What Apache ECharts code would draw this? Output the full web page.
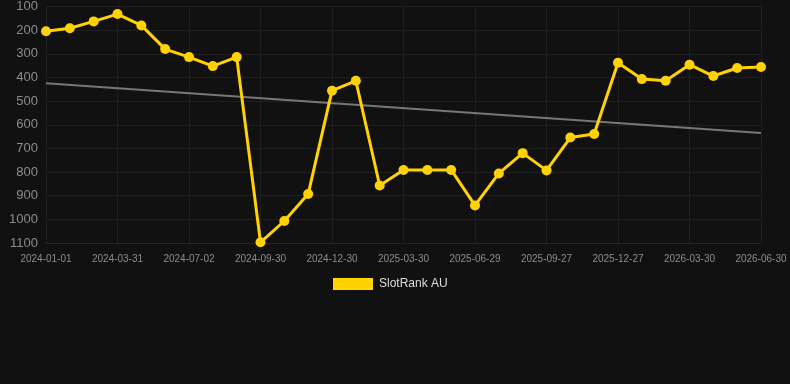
<!DOCTYPE html>
<html lang="en">
<head>
    <meta charset="UTF-8">
    <title>SlotRank AU</title>
    <script src="https://cdn.jsdelivr.net/npm/echarts@6/dist/echarts.min.js"></script>
</head>
<style>
    html, body {
        height: 100%;
        margin: 0;
        background: #111111;
    }
</style>
<body>
<div id="main" style="width: 790px;height:384px"></div>
<script type="text/javascript">
    var dates = [
        '2024-01-01', '2024-01-31', '2024-03-01', '2024-03-31', '2024-05-01', '2024-06-01',
        '2024-07-02', '2024-08-01', '2024-08-31', '2024-09-30', '2024-10-30', '2024-11-30',
        '2024-12-30', '2025-01-29', '2025-02-28', '2025-03-30', '2025-04-29', '2025-05-30',
        '2025-06-29', '2025-07-29', '2025-08-28', '2025-09-27', '2025-10-27', '2025-11-27',
        '2025-12-27', '2026-01-27', '2026-02-27', '2026-03-30', '2026-04-30', '2026-05-31',
        '2026-06-30'
    ];
    var rankAU = [
        205, 192, 163, 132, 180, 280, 314, 352, 314, 1097,
        1007, 893, 456, 414, 857, 791, 791, 791, 941, 806,
        720, 793, 654, 639, 338, 407, 414, 346, 394, 360,
        356
    ];
    // trend line, read at first and last date
    var trendEnds = [425, 635];

    var trend = dates.map(function (d, i) {
        if (i === 0) return trendEnds[0];
        if (i === dates.length - 1) return trendEnds[1];
        return null;
    });

    var myChart = echarts.init(document.getElementById('main'));
    var option = {
        backgroundColor: '#111111',
        animation: false,
        grid: {left: 46, right: 29, top: 6, bottom: 141},
        legend: {
            top: 273,
            left: 328,
            itemWidth: 40,
            itemHeight: 12,
            itemGap: 10,
            data: [{name: 'SlotRank AU', icon: 'rect'}],
            textStyle: {color: '#dddddd', fontSize: 12, fontFamily: 'Liberation Sans', padding: [0, 0, 0, 1]}
        },
        xAxis: {
            type: 'category',
            data: dates,
            boundaryGap: false,
            axisLine: {show: true, lineStyle: {color: '#242424'}},
            axisTick: {show: false},
            axisLabel: {interval: 2, color: '#8c8c8c', fontSize: 10, fontFamily: 'Liberation Sans', margin: 11},
            splitLine: {show: true, interval: 2, lineStyle: {color: '#1f1f1f'}}
        },
        yAxis: {
            type: 'value',
            inverse: true,
            min: 100,
            max: 1100,
            interval: 100,
            axisLine: {show: false},
            axisTick: {show: false},
            axisLabel: {
                color: '#8c8c8c', fontSize: 13, fontFamily: 'Liberation Sans', margin: 8,
                formatter: function (v) { return String(v); }
            },
            splitLine: {lineStyle: {color: '#1f1f1f'}}
        },
        series: [
            {
                name: 'SlotRank AU',
                type: 'line',
                data: rankAU,
                symbol: 'circle',
                symbolSize: 10,
                itemStyle: {color: '#ffd200'},
                lineStyle: {color: '#ffd200', width: 3},
                z: 3
            },
            {
                name: 'trend',
                type: 'line',
                data: trend,
                connectNulls: true,
                symbol: 'none',
                lineStyle: {color: '#777777', width: 2},
                z: 2
            }
        ]
    };
    myChart.setOption(option);
</script>
</body>
</html>
